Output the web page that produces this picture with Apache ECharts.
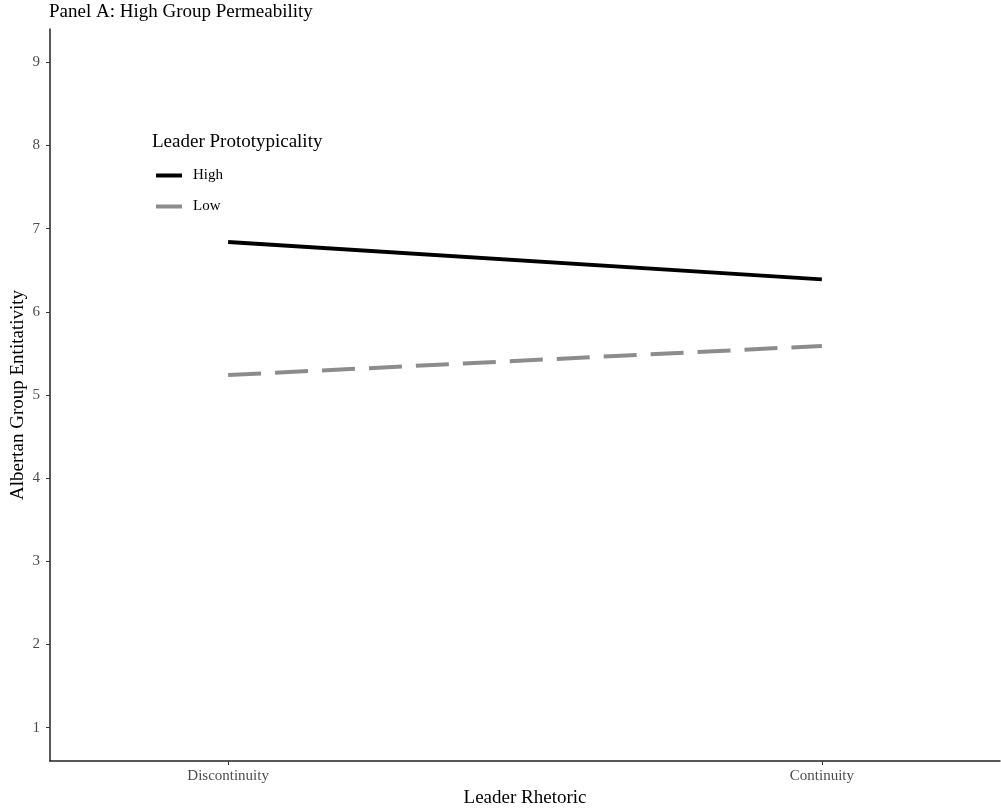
<!DOCTYPE html>
<html>
<head>
<meta charset="utf-8">
<script src="https://cdn.jsdelivr.net/npm/echarts@6/dist/echarts.min.js"></script>
<style>html,body{margin:0;padding:0;background:#fff}#c{width:1001px;height:808px}</style>
</head>
<body>
<div id="c"></div>
<script>
const categories = ['Discontinuity', 'Continuity'];
const seriesNames = ['High', 'Low'];
const highValues = [6.84, 6.39];
const lowValues = [5.24, 5.59];
const yTicks = [1, 2, 3, 4, 5, 6, 7, 8, 9];

const FONT = '"Liberation Serif", "Times New Roman", serif';
const chart = echarts.init(document.getElementById('c'));
const toPts = vals => vals.map((v, i) => [i, v]);

chart.setOption({
  animation: false,
  backgroundColor: '#fff',
  textStyle: { fontFamily: FONT },
  title: {
    text: 'Panel A: High Group Permeability',
    left: 44, top: -2,
    textStyle: { fontFamily: FONT, fontSize: 19, fontWeight: 'normal', color: '#000' }
  },
  graphic: [{
    type: 'text', left: 152, top: 133,
    style: { text: 'Leader Prototypicality', font: '19px ' + FONT, fill: '#000' }
  }],
  legend: {
    orient: 'vertical', left: 151, top: 163,
    itemWidth: 26, itemHeight: 16, itemGap: 16,
    textStyle: { fontFamily: FONT, fontSize: 15, color: '#000', padding: [0, 0, 0, 6] },
    data: [
      { name: 'High', icon: 'path://M0,0H26V4H0Z', itemStyle: { color: '#000' } },
      { name: 'Low', icon: 'path://M0,0H26V4H0Z', itemStyle: { color: '#8c8c8c' } }
    ]
  },
  grid: { left: 50, right: 1, top: 29, bottom: 47, containLabel: false, outerBoundsMode: 'none' },
  xAxis: {
    type: 'value', min: -0.3, max: 1.3,
    name: 'Leader Rhetoric', nameLocation: 'middle', nameGap: 26,
    nameTextStyle: { fontFamily: FONT, fontSize: 19, color: '#000' },
    axisLine: { show: true, onZero: false, lineStyle: { color: '#222', width: 1.5 } },
    axisTick: { show: true, customValues: [0, 1], length: 4, lineStyle: { color: '#333' } },
    axisLabel: { customValues: [0, 1], formatter: v => categories[Math.round(v)] || '',
      fontFamily: FONT, fontSize: 15, color: '#4d4d4d', margin: 8 },
    splitLine: { show: false }
  },
  yAxis: {
    type: 'value', min: 0.6, max: 9.4,
    name: 'Albertan Group Entitativity', nameLocation: 'middle', nameGap: 22,
    nameMoveOverlap: false,
    nameTextStyle: { fontFamily: FONT, fontSize: 19, color: '#000' },
    axisLine: { show: true, onZero: false, lineStyle: { color: '#222', width: 1.5 } },
    axisTick: { show: true, customValues: yTicks, length: 4, lineStyle: { color: '#333' } },
    axisLabel: { customValues: yTicks, fontFamily: FONT, fontSize: 15, color: '#4d4d4d', margin: 10 },
    splitLine: { show: false }
  },
  series: [
    { name: seriesNames[0], type: 'line', data: toPts(highValues), symbol: 'none',
      lineStyle: { color: '#000', width: 4, type: 'solid' }, itemStyle: { color: '#000' } },
    { name: seriesNames[1], type: 'line', data: toPts(lowValues), symbol: 'none',
      lineStyle: { color: '#8c8c8c', width: 4, type: [33, 14] }, itemStyle: { color: '#8c8c8c' } }
  ]
});
</script>
</body>
</html>
